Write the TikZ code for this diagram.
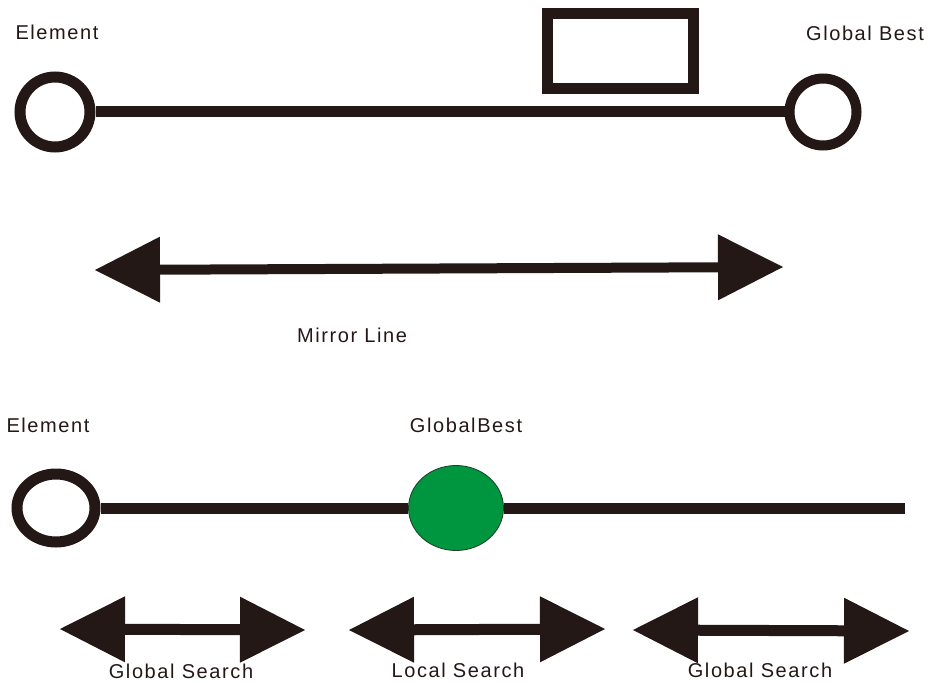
\documentclass[tikz,border=0pt]{standalone}
\usepackage{fontspec}
\setmainfont{Liberation Sans}
\usetikzlibrary{arrows.meta,shapes.geometric}
\definecolor{ink}{RGB}{35,24,21}
\definecolor{bestgreen}{RGB}{0,150,64}
\tikzset{
  label text/.style={font=\fontsize{20}{23}\selectfont\addfontfeature{LetterSpace=8},
    text=ink, anchor=base, inner sep=0pt},
  ring/.style={draw=ink, line width=11pt, fill=white, inner sep=0pt},
  bar/.style={draw=ink, line width=11pt},
  dbl/.style={draw=ink, line width=11pt,
    {Triangle[length=65pt,width=66pt,line width=0pt]}-{Triangle[length=65pt,width=66pt,line width=0pt]}},
}
\begin{document}
\begin{tikzpicture}[x=1pt,y=-1pt]
\useasboundingbox (0,0) rectangle (928,682);

% upper part: element, global best and the box
\node[label text] (t1) at (57,40) {Element};
\node[label text] (t2) at (865,41) {Global Best};
\node[ring, circle, minimum size=70pt] (e1) at (55,112) {};
\node[ring, circle, minimum size=67pt, line width=10pt] (g1) at (823,112) {};
\draw[bar] (e1) -- (g1);
\node[draw=ink, line width=11pt, minimum width=146pt, minimum height=75pt, inner sep=0pt] (box) at (620,51) {};

% mirror line
\coordinate (m1) at (95,270);
\coordinate (m2) at (783,267);
\draw[dbl, line width=10pt] (m1) -- (m2);
\node[label text] (t3) at (352,342) {Mirror Line};

% lower part: element and global best on one line
\node[label text] (t4) at (48,432) {Element};
\node[label text] (t5) at (466,432) {GlobalBest};
\coordinate (lineend) at (905,508);
\node[ring, ellipse, minimum width=78pt, minimum height=68pt] (e2) at (56,508) {};
\node[ellipse, draw=ink!70!bestgreen, line width=0.8pt, fill=bestgreen,
  minimum width=95pt, minimum height=85pt, inner sep=0pt] (gb) at (456,508) {};
\draw[bar] (e2) -- (gb) -- (lineend);

% search ranges
\coordinate (a1) at (60,629);
\coordinate (b1) at (305,630);
\coordinate (a2) at (349,630);
\coordinate (b2) at (605,629);
\coordinate (a3) at (633,630);
\coordinate (b3) at (909,631);
\draw[dbl] (a1) -- (b1);
\draw[dbl] (a2) -- (b2);
\draw[dbl] (a3) -- (b3);
\node[label text] (s1) at (181,678.5) {Global Search};
\node[label text] (s2) at (458,677) {Local Search};
\node[label text] (s3) at (760,677) {Global Search};
\end{tikzpicture}
\end{document}
